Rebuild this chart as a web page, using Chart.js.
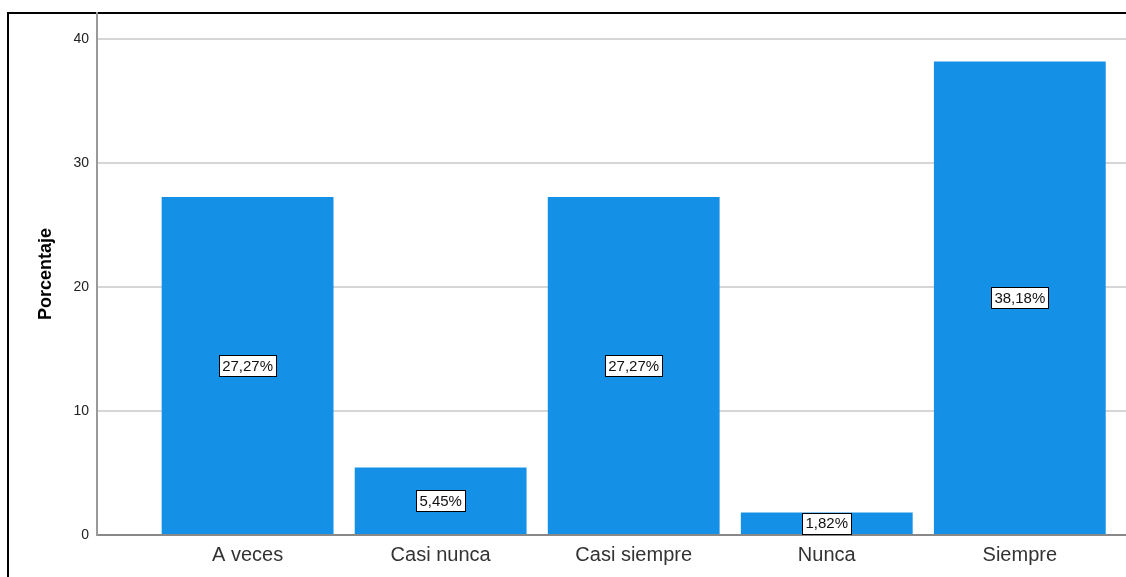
<!DOCTYPE html>
<html>
<head>
<meta charset="utf-8">
<script src="https://cdn.jsdelivr.net/npm/chart.js@4/dist/chart.umd.min.js"></script>
<style>
  body { margin: 0; background: #fff; overflow: hidden; }
  #frame { position: absolute; left: 7px; top: 12px; width: 1300px; height: 700px; border: 2px solid #000; }
  #wrap { position: absolute; left: 0; top: 0; width: 1126px; height: 577px; }
</style>
</head>
<body>
<div id="frame"></div>
<div id="wrap"><canvas id="bar-chart"></canvas></div>
<script>
const categories = ['A veces', 'Casi nunca', 'Casi siempre', 'Nunca', 'Siempre']
const percentages = [27.27, 5.45, 27.27, 1.82, 38.18]
const yTicks = [0, 10, 20, 30, 40]

const COLORS = {
  bar: '#1491e6',
  grid: '#d6d6d6',
  axis: '#9a9a9a',
  text: '#222'
}
const FONT = "'Liberation Sans', Arial, sans-serif"

// white boxed percent label in the middle of every bar
const boxLabels = {
  id: 'boxLabels',
  afterDatasetsDraw(chart) {
    const ctx = chart.ctx
    const meta = chart.getDatasetMeta(0)
    ctx.save()
    ctx.font = '15px ' + FONT
    ctx.textAlign = 'center'
    ctx.textBaseline = 'middle'
    meta.data.forEach((bar, i) => {
      const { x, y, base } = bar.getProps(['x', 'y', 'base'], true)
      const cy = (y + base) / 2
      const text = percentages[i].toFixed(2).replace('.', ',') + '%'
      const w = ctx.measureText(text).width + 6
      const h = 21
      ctx.fillStyle = '#fff'
      ctx.fillRect(Math.round(x - w / 2) + 0.5, Math.round(cy - h / 2) + 0.5, Math.round(w), h)
      ctx.strokeStyle = '#000'
      ctx.lineWidth = 1
      ctx.strokeRect(Math.round(x - w / 2) + 0.5, Math.round(cy - h / 2) + 0.5, Math.round(w), h)
      ctx.fillStyle = '#111'
      ctx.fillText(text, x, cy + 1)
    })
    ctx.restore()
  }
}

const data = {
  datasets: [{
    data: percentages.map((v, i) => ({ x: i, y: v })),
    backgroundColor: COLORS.bar,
    borderWidth: 0,
    categoryPercentage: 1,
    barPercentage: 0.89
  }]
}

const config = {
  type: 'bar',
  data: data,
  options: {
    responsive: true,
    maintainAspectRatio: false,
    animation: false,
    layout: { padding: { top: 13, right: 0, left: 0, bottom: 0 } },
    plugins: {
      legend: { display: false },
      tooltip: { enabled: false }
    },
    scales: {
      x: {
        type: 'linear',
        offset: false,
        min: -0.78,
        max: 4.55,
        grid: { display: false, drawTicks: false, offset: false },
        border: { display: true, color: '#888', width: 2 },
        afterBuildTicks: s => { s.ticks = categories.map((c, i) => ({ value: i })) },
        afterFit: s => { s.height = 42 },
        ticks: {
          autoSkip: false,
          maxRotation: 0,
          padding: 8,
          color: '#333',
          font: { family: FONT, size: 20 },
          callback: v => categories[v] ?? ''
        }
      },
      y: {
        min: 0,
        max: 42.1,
        afterBuildTicks: s => { s.ticks = yTicks.map(v => ({ value: v })) },
        afterFit: s => { s.width = 97; s.paddingTop = 0 },
        grid: { color: COLORS.grid, lineWidth: 2, drawTicks: false },
        border: { display: true, color: COLORS.axis, width: 2 },
        ticks: {
          padding: 8,
          color: COLORS.text,
          font: { family: FONT, size: 14, lineHeight: 1 }
        },
        title: {
          display: true,
          text: 'Porcentaje',
          color: '#000',
          padding: { top: 35, bottom: 0 },
          font: { family: FONT, size: 18, weight: 'bold' }
        }
      }
    }
  },
  plugins: [boxLabels]
}

const ctx = document.getElementById('bar-chart')
const barChart = new Chart(ctx, config)
</script>
</body>
</html>
